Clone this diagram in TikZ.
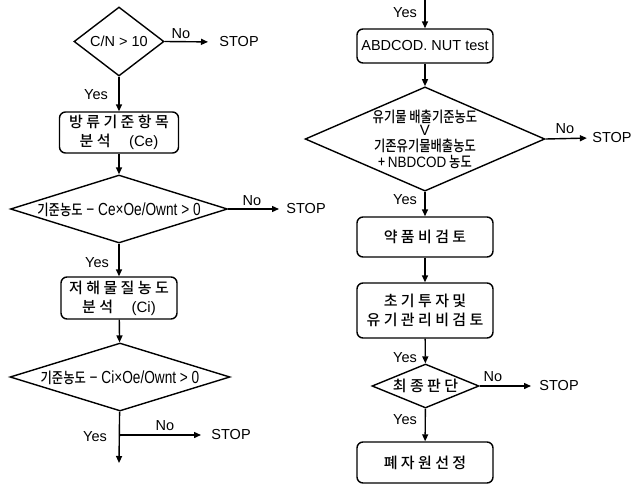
\documentclass[tikz,border=0pt]{standalone}
\usepackage{fontspec}
\setmainfont{Liberation Sans}
\newfontfamily\kr{Noto Sans CJK KR Medium}
\newfontfamily\krnarrow{Noto Sans CJK KR Medium}[FakeStretch=0.82]
\newfontfamily\narrow{Liberation Sans}[FakeStretch=0.78]
\usetikzlibrary{shapes.geometric,arrows.meta}

\begin{document}
\begin{tikzpicture}[x=1pt,y=1pt,yscale=-1,xscale=1,
  line width=1.4pt,
  >={Triangle[length=7pt,width=6pt]},
  procbox/.style={draw,rounded corners=6pt,inner sep=0pt,align=center,font=\kr\fontsize{15}{19}\selectfont},
  decide/.style={draw,diamond,inner sep=0pt,align=center},
  lbl/.style={inner sep=0.75pt,font=\fontsize{14.5}{16}\selectfont}]
\useasboundingbox (0,0) rectangle (633,485);

%Shape: Diamond (left column)
\node (d1) at (119,41.5) [decide,minimum width=90pt,minimum height=69pt,aspect=1.3,font=\fontsize{14.5}{16}\selectfont] {C/N > 10};
%Shape: Rounded Rect
\node (b1) at (119,132.5) [procbox,minimum width=119pt,minimum height=41pt] {방 류 기 준 항 목\\분 석 \quad {\fontspec{Liberation Sans}(Ce)}};
%Shape: Diamond
\node (d2) at (119,209) [decide,minimum width=217pt,minimum height=68pt,aspect=3.19,text height=12pt,text depth=0pt,font=\narrow\fontsize{17.5}{17}\selectfont] {{\krnarrow\fontsize{15}{15}\selectfont 기준농도} − Ce×Oe/Ownt > 0};
%Shape: Rounded Rect
\node (b2) at (119,298) [procbox,minimum width=116pt,minimum height=42pt] {저 해 물 질 농 도\\분 석 \quad {\fontspec{Liberation Sans}(Ci)}};
%Shape: Diamond
\node (d3) at (120,377) [decide,minimum width=220pt,minimum height=68pt,aspect=3.24,text height=12pt,text depth=0pt,font=\narrow\fontsize{17.5}{17}\selectfont] {{\krnarrow\fontsize{15}{15}\selectfont 기준농도} − Ci×Oe/Ownt > 0};
\coordinate (fork) at (119,435);
\coordinate (endL) at (119,463);

%Shape: Rounded Rect (right column)
\coordinate (startR) at (425,0);
\node (b3) at (425,46) [procbox,font=\fontsize{14.5}{16}\selectfont,minimum width=136pt,minimum height=34pt] {ABDCOD. NUT test};
%Shape: Diamond
\node (d4) at (425,139) [decide,minimum width=226pt,minimum height=98pt,aspect=2.3,font=\krnarrow\fontsize{15}{16}\selectfont] {유기물 배출기준농도\\[-3pt]{\fontspec{Liberation Sans}V}\\기존유기물배출농도\\+ {\fontspec{Liberation Sans}[FakeStretch=0.9]NBDCOD} 농도};
%Shape: Rounded Rect
\node (b4) at (425,237) [procbox,minimum width=136pt,minimum height=40pt] {약 품 비 검 토};
%Shape: Rounded Rect
\node (b5) at (425,310.5) [procbox,minimum width=136pt,minimum height=55pt] {초 기 투 자 및\\유 기 관 리 비 검 토};
%Shape: Diamond
\node (d6) at (425.5,386) [decide,minimum width=107pt,minimum height=44pt,aspect=2.4,font=\kr\fontsize{15}{16}\selectfont] {최 종 판 단};
%Shape: Rounded Rect
\node (b7) at (425,462.5) [procbox,minimum width=136pt,minimum height=41pt] {폐 자 원 선 정};

% Text Node
\node (s1) at (218,42) [anchor=west,lbl] {STOP};
% Text Node
\node (s2) at (285,209) [anchor=west,lbl] {STOP};
% Text Node
\node (s3) at (210,435) [anchor=west,lbl] {STOP};
% Text Node
\node (s4) at (633,138) [anchor=east,lbl] {STOP};
% Text Node
\node (s6) at (538,386) [anchor=west,lbl] {STOP};

%Straight Lines
\draw [->] (d1) -- (b1);
\draw [->] (b1) -- (d2);
\draw [->] (d2) -- (b2);
\draw [->] (b2) -- (d3);
\draw [->] (d3) -- (endL);
\draw [->,shorten >=10pt] (d1.east) -- (s1.west);
\draw [->,shorten >=6pt] (d2.east) -- (s2.west);
\draw [->,shorten >=9pt] (fork) -- (s3.west);
\draw [->] (startR) -- (b3);
\draw [->] (b3) -- (d4);
\draw [->] (d4) -- (b4);
\draw [->] (b4) -- (b5);
\draw [->] (b5) -- (d6);
\draw [->] (d6) -- (b7);
\draw [->,shorten >=4pt] (d4.east) -- (s4.west);
\draw [->,shorten >=7pt] (d6.east) -- (s6.west);

% Text Node
\node (y1) at (96,95) [lbl] {Yes};
% Text Node
\node (y2) at (97,263) [lbl] {Yes};
% Text Node
\node (y3) at (95,437) [lbl] {Yes};
% Text Node
\node (y4) at (405,13) [lbl] {Yes};
% Text Node
\node (y5) at (405,200) [lbl] {Yes};
% Text Node
\node (y6) at (405,358) [lbl] {Yes};
% Text Node
\node (y7) at (405,420) [lbl] {Yes};
% Text Node
\node (n1) at (181,34) [lbl] {No};
% Text Node
\node (n2) at (252,201) [lbl] {No};
% Text Node
\node (n3) at (165,426) [lbl] {No};
% Text Node
\node (n4) at (565,129) [lbl] {No};
% Text Node
\node (n6) at (493,377) [lbl] {No};
\end{tikzpicture}
\end{document}
